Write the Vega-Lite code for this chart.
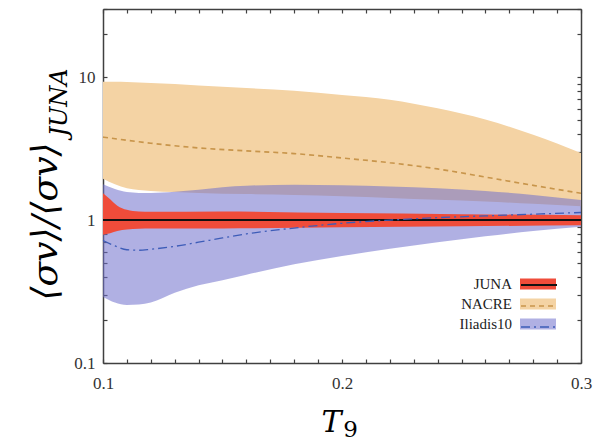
{
  "$schema": "https://vega.github.io/schema/vega-lite/v6.json",
  "width": 478,
  "height": 354,
  "autosize": "none",
  "padding": {"left": 103, "top": 9, "right": 16, "bottom": 78},
  "background": "white",
  "config": {
    "view": {"stroke": null},
    "axis": {
      "grid": false,
      "domainColor": "#404040",
      "domainWidth": 1.5,
      "tickColor": "#404040",
      "tickWidth": 1.2,
      "labelFont": "Liberation Serif",
      "labelFontSize": 17,
      "labelColor": "#333333",
      "titleColor": "#000000",
      "titleFontWeight": "normal"
    }
  },
  "datasets": {
    "bands": [
      {"series": "NACRE", "T9": 0.1, "lo": 1.95, "hi": 9.3},
      {"series": "NACRE", "T9": 0.105, "lo": 1.78, "hi": 9.3},
      {"series": "NACRE", "T9": 0.11, "lo": 1.67, "hi": 9.25},
      {"series": "NACRE", "T9": 0.12, "lo": 1.6, "hi": 9.1},
      {"series": "NACRE", "T9": 0.13, "lo": 1.57, "hi": 8.95},
      {"series": "NACRE", "T9": 0.14, "lo": 1.55, "hi": 8.75},
      {"series": "NACRE", "T9": 0.16, "lo": 1.52, "hi": 8.4},
      {"series": "NACRE", "T9": 0.18, "lo": 1.5, "hi": 8.05},
      {"series": "NACRE", "T9": 0.2, "lo": 1.47, "hi": 7.5},
      {"series": "NACRE", "T9": 0.22, "lo": 1.43, "hi": 6.95},
      {"series": "NACRE", "T9": 0.24, "lo": 1.39, "hi": 6.05},
      {"series": "NACRE", "T9": 0.26, "lo": 1.35, "hi": 5.05},
      {"series": "NACRE", "T9": 0.28, "lo": 1.3, "hi": 3.95},
      {"series": "NACRE", "T9": 0.3, "lo": 1.25, "hi": 2.95},
      {"series": "Iliadis10", "T9": 0.1, "lo": 0.29, "hi": 1.78},
      {"series": "Iliadis10", "T9": 0.105, "lo": 0.265, "hi": 1.65},
      {"series": "Iliadis10", "T9": 0.11, "lo": 0.255, "hi": 1.57},
      {"series": "Iliadis10", "T9": 0.115, "lo": 0.257, "hi": 1.55},
      {"series": "Iliadis10", "T9": 0.12, "lo": 0.265, "hi": 1.55},
      {"series": "Iliadis10", "T9": 0.13, "lo": 0.31, "hi": 1.58},
      {"series": "Iliadis10", "T9": 0.14, "lo": 0.35, "hi": 1.63},
      {"series": "Iliadis10", "T9": 0.15, "lo": 0.38, "hi": 1.7},
      {"series": "Iliadis10", "T9": 0.16, "lo": 0.415, "hi": 1.74},
      {"series": "Iliadis10", "T9": 0.18, "lo": 0.49, "hi": 1.77},
      {"series": "Iliadis10", "T9": 0.2, "lo": 0.56, "hi": 1.75},
      {"series": "Iliadis10", "T9": 0.22, "lo": 0.63, "hi": 1.72},
      {"series": "Iliadis10", "T9": 0.24, "lo": 0.7, "hi": 1.67},
      {"series": "Iliadis10", "T9": 0.26, "lo": 0.77, "hi": 1.6},
      {"series": "Iliadis10", "T9": 0.28, "lo": 0.84, "hi": 1.5},
      {"series": "Iliadis10", "T9": 0.3, "lo": 0.9, "hi": 1.38},
      {"series": "JUNA", "T9": 0.1, "lo": 0.79, "hi": 1.54},
      {"series": "JUNA", "T9": 0.103, "lo": 0.81, "hi": 1.4},
      {"series": "JUNA", "T9": 0.106, "lo": 0.84, "hi": 1.26},
      {"series": "JUNA", "T9": 0.11, "lo": 0.86, "hi": 1.18},
      {"series": "JUNA", "T9": 0.115, "lo": 0.87, "hi": 1.15},
      {"series": "JUNA", "T9": 0.12, "lo": 0.875, "hi": 1.145},
      {"series": "JUNA", "T9": 0.15, "lo": 0.875, "hi": 1.15},
      {"series": "JUNA", "T9": 0.2, "lo": 0.89, "hi": 1.12},
      {"series": "JUNA", "T9": 0.25, "lo": 0.905, "hi": 1.1},
      {"series": "JUNA", "T9": 0.3, "lo": 0.92, "hi": 1.08}
    ],
    "centres": [
      {"series": "JUNA", "rank": 1, "T9": 0.1, "v": 1},
      {"series": "JUNA", "rank": 1, "T9": 0.3, "v": 1},
      {"series": "NACRE", "rank": 2, "T9": 0.1, "v": 3.81},
      {"series": "NACRE", "rank": 2, "T9": 0.12, "v": 3.45},
      {"series": "NACRE", "rank": 2, "T9": 0.14, "v": 3.2},
      {"series": "NACRE", "rank": 2, "T9": 0.16, "v": 3.05},
      {"series": "NACRE", "rank": 2, "T9": 0.18, "v": 2.92},
      {"series": "NACRE", "rank": 2, "T9": 0.2, "v": 2.72},
      {"series": "NACRE", "rank": 2, "T9": 0.22, "v": 2.52},
      {"series": "NACRE", "rank": 2, "T9": 0.24, "v": 2.28},
      {"series": "NACRE", "rank": 2, "T9": 0.26, "v": 2.0},
      {"series": "NACRE", "rank": 2, "T9": 0.28, "v": 1.75},
      {"series": "NACRE", "rank": 2, "T9": 0.3, "v": 1.54},
      {"series": "Iliadis10", "rank": 3, "T9": 0.1, "v": 0.72},
      {"series": "Iliadis10", "rank": 3, "T9": 0.105, "v": 0.66},
      {"series": "Iliadis10", "rank": 3, "T9": 0.11, "v": 0.62},
      {"series": "Iliadis10", "rank": 3, "T9": 0.115, "v": 0.615},
      {"series": "Iliadis10", "rank": 3, "T9": 0.12, "v": 0.625},
      {"series": "Iliadis10", "rank": 3, "T9": 0.13, "v": 0.655},
      {"series": "Iliadis10", "rank": 3, "T9": 0.14, "v": 0.7},
      {"series": "Iliadis10", "rank": 3, "T9": 0.15, "v": 0.75},
      {"series": "Iliadis10", "rank": 3, "T9": 0.16, "v": 0.8},
      {"series": "Iliadis10", "rank": 3, "T9": 0.18, "v": 0.88},
      {"series": "Iliadis10", "rank": 3, "T9": 0.2, "v": 0.95},
      {"series": "Iliadis10", "rank": 3, "T9": 0.22, "v": 1.0},
      {"series": "Iliadis10", "rank": 3, "T9": 0.24, "v": 1.04},
      {"series": "Iliadis10", "rank": 3, "T9": 0.26, "v": 1.07},
      {"series": "Iliadis10", "rank": 3, "T9": 0.28, "v": 1.1},
      {"series": "Iliadis10", "rank": 3, "T9": 0.3, "v": 1.13}
    ]
  },
  "layer": [
    {
      "data": {"name": "bands"},
      "transform": [{"filter": "datum.series == 'NACRE'"}],
      "mark": {"type": "area", "interpolate": "monotone"},
      "encoding": {
        "x": {
          "field": "T9", "type": "quantitative",
          "scale": {"domain": [0.1, 0.3], "nice": false, "zero": false},
          "axis": {
            "orient": "bottom",
            "values": [0.1, 0.11, 0.12, 0.13, 0.14, 0.15, 0.16, 0.17, 0.18, 0.19, 0.2, 0.21, 0.22, 0.23, 0.24, 0.25, 0.26, 0.27, 0.28, 0.29, 0.3],
            "labelExpr": "datum.value == 0.1 ? '0.1' : datum.value == 0.2 ? '0.2' : datum.value == 0.3 ? '0.3' : ''",
            "labelFlush": false,
            "labelOverlap": false,
            "tickSize": -4,
            "labelPadding": 16,
            "title": "T",
            "titleFont": "DejaVu Serif",
            "titleFontStyle": "italic",
            "titleFontSize": 30,
            "titleAlign": "center",
            "titleBaseline": "alphabetic",
            "titleX": 228,
            "titleY": 68
          }
        },
        "y": {
          "field": "lo", "type": "quantitative",
          "scale": {"type": "log", "domain": [0.1, 30], "nice": false},
          "axis": {
            "orient": "left",
            "values": [0.1, 0.2, 0.3, 0.4, 0.5, 0.6, 0.7, 0.8, 0.9, 1, 2, 3, 4, 5, 6, 7, 8, 9, 10, 20, 30],
            "labelExpr": "datum.value == 0.1 ? '0.1' : datum.value == 1 ? '1' : datum.value == 10 ? '10' : ''",
            "labelOverlap": false,
            "labelFlush": false,
            "tickSize": -4,
            "labelPadding": 12,
            "title": "⟨σv⟩/⟨σv⟩",
            "titleFont": "DejaVu Serif",
            "titleFontStyle": "italic",
            "titleFontSize": 36,
            "titleAngle": -90,
            "titleAlign": "center",
            "titleBaseline": "alphabetic",
            "titleX": -47,
            "titleY": 212
          }
        },
        "y2": {"field": "hi"},
        "fill": {
          "field": "series", "type": "nominal",
          "scale": {"domain": ["JUNA", "NACRE", "Iliadis10"], "range": ["#ef4c3a", "#f4d3a4", "#7070cc"]},
          "legend": {
            "orient": "none",
            "legendX": 426,
            "legendY": 266,
            "title": null,
            "symbolType": "M-2,-0.6H2V0.6H-2Z",
            "symbolSize": 324,
            "symbolStrokeWidth": 0,
            "symbolOpacity": 1,
            "labelAlign": "right",
            "labelOffset": -35,
            "labelFont": "Liberation Serif",
            "labelFontSize": 15,
            "labelColor": "#222222",
            "rowPadding": 3,
            "encode": {"symbols": {"update": {"fillOpacity": {"signal": "datum.value === 'Iliadis10' ? 0.55 : 1"}}}}
          }
        }
      }
    },
    {
      "data": {"name": "bands"},
      "transform": [{"filter": "datum.series == 'Iliadis10'"}],
      "mark": {"type": "area", "interpolate": "monotone", "fillOpacity": 0.55},
      "encoding": {
        "x": {
          "field": "T9", "type": "quantitative",
          "scale": {"domain": [0.1, 0.3], "nice": false, "zero": false},
          "axis": {
            "orient": "top",
            "values": [0.1, 0.11, 0.12, 0.13, 0.14, 0.15, 0.16, 0.17, 0.18, 0.19, 0.2, 0.21, 0.22, 0.23, 0.24, 0.25, 0.26, 0.27, 0.28, 0.29, 0.3],
            "labels": false,
            "tickSize": -4,
            "title": null
          }
        },
        "y": {
          "field": "lo", "type": "quantitative",
          "scale": {"type": "log", "domain": [0.1, 30], "nice": false},
          "axis": {
            "orient": "right",
            "values": [0.1, 0.2, 0.3, 0.4, 0.5, 0.6, 0.7, 0.8, 0.9, 1, 2, 3, 4, 5, 6, 7, 8, 9, 10, 20, 30],
            "labels": false,
            "tickSize": -4,
            "title": null
          }
        },
        "y2": {"field": "hi"},
        "fill": {"field": "series", "type": "nominal"}
      }
    },
    {
      "data": {"name": "bands"},
      "transform": [{"filter": "datum.series == 'JUNA'"}],
      "mark": {"type": "area", "interpolate": "monotone"},
      "encoding": {
        "x": {
          "field": "T9", "type": "quantitative",
          "scale": {"domain": [0.1, 0.3], "nice": false, "zero": false},
          "axis": {
            "orient": "bottom",
            "domain": false, "ticks": false, "labels": false,
            "title": "9",
            "titleFont": "DejaVu Serif",
            "titleFontStyle": "normal",
            "titleFontSize": 23,
            "titleAlign": "center",
            "titleBaseline": "alphabetic",
            "titleX": 247,
            "titleY": 73
          }
        },
        "y": {
          "field": "lo", "type": "quantitative",
          "scale": {"type": "log", "domain": [0.1, 30], "nice": false},
          "axis": {
            "orient": "left",
            "domain": false, "ticks": false, "labels": false,
            "title": "JUNA",
            "titleFont": "DejaVu Serif",
            "titleFontStyle": "italic",
            "titleFontSize": 24,
            "titleAngle": -90,
            "titleAlign": "center",
            "titleBaseline": "alphabetic",
            "titleX": -37,
            "titleY": 93
          }
        },
        "y2": {"field": "hi"},
        "fill": {"field": "series", "type": "nominal"}
      }
    },
    {
      "data": {"name": "centres"},
      "mark": {"type": "line", "interpolate": "monotone"},
      "encoding": {
        "x": {"field": "T9", "type": "quantitative", "scale": {"domain": [0.1, 0.3], "nice": false, "zero": false}, "axis": null},
        "y": {"field": "v", "type": "quantitative", "scale": {"type": "log", "domain": [0.1, 30], "nice": false}, "axis": null},
        "stroke": {
          "field": "series", "type": "nominal",
          "sort": {"field": "rank", "op": "min"},
          "scale": {"range": ["#111111", "#c8954b", "#3d5cb8"]},
          "legend": {
            "orient": "none",
            "legendX": 426,
            "legendY": 266,
            "title": null,
            "symbolType": "M-2,0H2",
            "symbolSize": 324,
            "symbolStrokeWidth": 1.6,
            "labelAlign": "right",
            "labelOffset": -35,
            "labelFont": "Liberation Serif",
            "labelFontSize": 15,
            "labelExpr": "' '",
            "rowPadding": 3
          }
        },
        "strokeDash": {
          "field": "series", "type": "nominal",
          "sort": {"field": "rank", "op": "min"},
          "scale": {"range": [[1, 0], [5, 4], [9, 4, 2, 4]]}
        },
        "strokeWidth": {
          "field": "series", "type": "nominal",
          "sort": {"field": "rank", "op": "min"},
          "scale": {"range": [2, 1.3, 1.6]},
          "legend": null
        }
      }
    }
  ],
  "resolve": {"axis": {"x": "independent", "y": "independent"}}
}
